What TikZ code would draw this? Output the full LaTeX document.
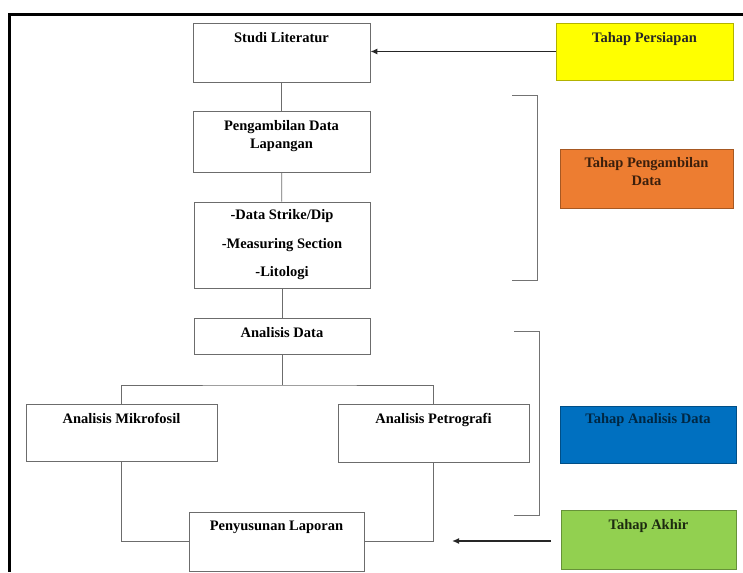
\documentclass[tikz,border=0pt]{standalone}
\usepackage{fontspec}
\setmainfont{Liberation Serif}
\usetikzlibrary{arrows.meta}

\definecolor{kuning}{HTML}{FFFF00}
\definecolor{oranye}{HTML}{ED7D31}
\definecolor{biru}{HTML}{0070C0}
\definecolor{hijau}{HTML}{92D050}

\tikzset{
  kotak/.style={draw=gray!85!black, line width=0.7pt, inner sep=0pt},
  tahap/.style={kotak, fill=#1, draw=#1!70!black},
  teks/.style={anchor=north, inner sep=0pt, align=center,
    font=\fontsize{14.5}{18}\selectfont\bfseries},
  garis/.style={draw=gray!85!black, line width=0.7pt},
  panah/.style={-{Latex[length=7pt,width=6pt]}, line width=1.7pt, black!85},
  kurung/.style={draw=gray!90!black, line width=0.8pt}
}

\begin{document}
\begin{tikzpicture}[x=1pt,y=-1pt]
    \useasboundingbox (0,0) rectangle (743,572);
    \draw[line width=3pt] (743,14.5) -- (9.5,14.5) -- (9.5,572);

    \node[kotak, minimum width=177pt, minimum height=59pt] (lit) at (281.5,52.5) {};
    \node[kotak, minimum width=177pt, minimum height=61pt] (ambil) at (281.5,141.5) {};
    \node[kotak, minimum width=176pt, minimum height=86pt] (data) at (282,245) {};
    \node[kotak, minimum width=176pt, minimum height=36pt] (anal) at (282,336) {};
    \node[kotak, minimum width=191pt, minimum height=57pt] (mikro) at (121.5,432.5) {};
    \node[kotak, minimum width=191pt, minimum height=58pt] (petro) at (433.5,433) {};
    \node[kotak, minimum width=175pt, minimum height=59pt] (lapor) at (276.5,541.5) {};

    \node[tahap=kuning, minimum width=177pt, minimum height=57pt] (tpers) at (644.5,51.5) {};
    \node[tahap=oranye, minimum width=173pt, minimum height=59pt] (tambil) at (646.5,178.5) {};
    \node[tahap=biru, minimum width=176pt, minimum height=57pt] (tanal) at (648,434.5) {};
    \node[tahap=hijau, minimum width=175pt, minimum height=59pt] (takhir) at (648.5,539.5) {};

    \node[teks] (lit-t) at ([yshift=-10pt]lit.north) {Studi Literatur};
    \node[teks] (ambil-t) at ([yshift=-10pt]ambil.north) {Pengambilan Data\\Lapangan};
    \node[teks] (data-t) at ([yshift=-8pt]data.north)
        {-Data Strike/Dip\\[10.5pt]-Measuring Section\\[10.5pt]-Litologi};
    \node[teks] (anal-t) at ([yshift=-10pt]anal.north) {Analisis Data};
    \node[teks] (mikro-t) at ([yshift=-9pt]mikro.north) {Analisis Mikrofosil};
    \node[teks] (petro-t) at ([yshift=-9pt]petro.north) {Analisis Petrografi};
    \node[teks] (lapor-t) at ([yshift=-9pt]lapor.north) {Penyusunan Laporan};

    \node[teks, text=black!85] (tpers-t) at ([yshift=-10pt]tpers.north) {Tahap Persiapan};
    \node[teks, text=oranye!25!black] (tambil-t) at ([yshift=-9pt]tambil.north) {Tahap Pengambilan\\Data};
    \node[teks, text=biru!35!black] (tanal-t) at ([yshift=-8pt]tanal.north) {Tahap Analisis Data};
    \node[teks, text=hijau!20!black] (takhir-t) at ([yshift=-10pt]takhir.north) {Tahap Akhir};

    \coordinate (cabang) at (282,385);
    \coordinate (pangkal) at (551,541);
    \coordinate (ujung) at (452,541);

    \draw[garis] (lit) -- (ambil);
    \draw[garis] (ambil) -- (data);
    \draw[garis] (data) -- (anal);
    \draw[garis] (anal) -- (cabang);
    \draw[garis] (mikro.north) |- (cabang) -| (petro.north);
    \draw[garis] (mikro.south) |- (lapor.west);
    \draw[garis] (petro.south) |- (lapor.east);

    \draw[panah] (tpers.west) -- (tpers.west -| lit.east);
    \draw[panah] (pangkal) -- (ujung);

    \draw[kurung] (512,95) -- (537,95) -- (537,280) -- (512,280);
    \draw[kurung] (514,331) -- (539,331) -- (539,515) -- (514,515);
\end{tikzpicture}
\end{document}
